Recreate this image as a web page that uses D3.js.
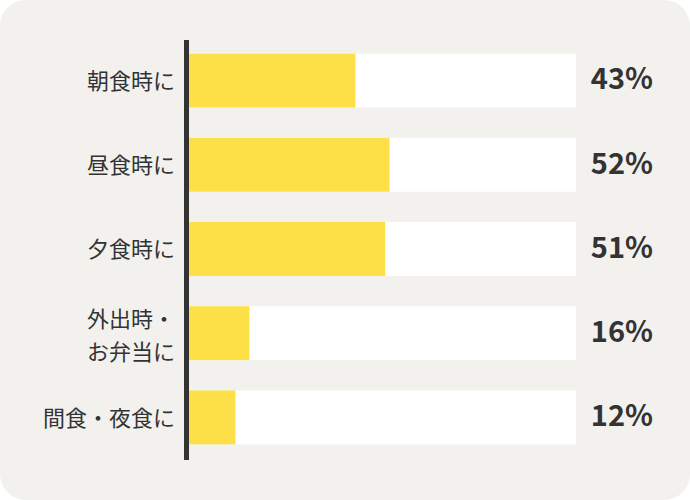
<!DOCTYPE html>
<html><head><meta charset="utf-8">
<script src="https://cdn.jsdelivr.net/npm/d3@7"></script>
<style>html,body{margin:0;padding:0;background:#fff;}svg{display:block;}</style>
</head><body>
<svg id="c" width="690" height="500"></svg>
<script>
const categories = [["朝食時に"], ["昼食時に"], ["夕食時に"], ["外出時・", "お弁当に"], ["間食・夜食に"]];
const values = [43.0, 51.8, 50.7, 15.6, 12.0];
const valueLabels = ["43%", "52%", "51%", "16%", "12%"];

const W = 690, H = 500;
const svg = d3.select("#c");
const font = "'Noto Sans CJK JP','Noto Sans',sans-serif";

svg.append("rect").attr("x", 0).attr("y", 0).attr("width", W).attr("height", H)
  .attr("rx", 26).attr("ry", 26).attr("fill", "#f2f1ee");

const ids = d3.range(categories.length);
const y = d3.scaleBand().domain(ids).range([38.5, 459.5]).paddingInner(0.36).paddingOuter(0.18);
const x = d3.scaleLinear().domain([0, 100]).range([189, 576]);

const g = svg.append("g");
g.selectAll("rect.bg").data(ids).join("rect").attr("class", "bg")
  .attr("x", x(0)).attr("y", d => y(d)).attr("width", x(100) - x(0)).attr("height", y.bandwidth())
  .attr("fill", "#ffffff");
g.selectAll("rect.bar").data(ids).join("rect").attr("class", "bar")
  .attr("x", x(0)).attr("y", d => y(d)).attr("width", d => x(values[d]) - x(0)).attr("height", y.bandwidth())
  .attr("fill", "#fddf47");

svg.append("line").attr("x1", 186.5).attr("x2", 186.5).attr("y1", 40).attr("y2", 460)
  .attr("stroke", "#333333").attr("stroke-width", 5);

// category labels
ids.forEach(i => {
  const lines = categories[i];
  const cy = y(i) + y.bandwidth() / 2;
  const lh = 32.5;
  const shift = lines.length > 1 ? 2 : 0;
  const t = svg.append("text").attr("text-anchor", "end").attr("font-family", font)
    .attr("font-size", 22).attr("fill", "#333333");
  lines.forEach((l, k) => {
    t.append("tspan").attr("x", 175).attr("y", cy + (k - (lines.length - 1) / 2) * lh + shift + 2.5)
      .attr("dominant-baseline", "middle").text(l);
  });
});

svg.selectAll("text.val").data(ids).join("text").attr("class", "val")
  .attr("x", 653).attr("y", d => y(d) + y.bandwidth() / 2 + 1)
  .attr("text-anchor", "end").attr("dominant-baseline", "middle")
  .attr("font-family", font).attr("font-weight", "bold").attr("font-size", 29)
  .attr("fill", "#333333").text(d => valueLabels[d]);
</script>
</body></html>
